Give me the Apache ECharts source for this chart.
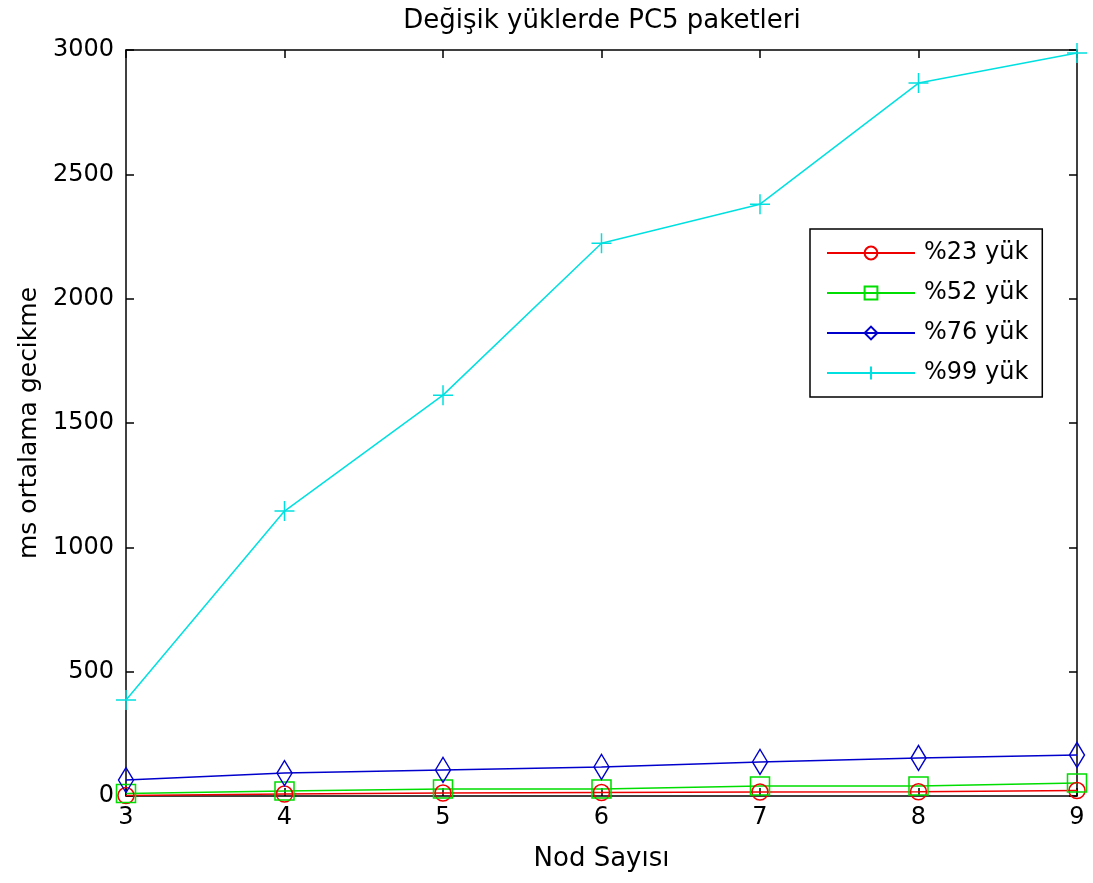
<!DOCTYPE html>
<html>
<head>
<meta charset="utf-8">
<script src="https://cdn.jsdelivr.net/npm/echarts@6/dist/echarts.min.js"></script>
<style>html,body{margin:0;padding:0;background:#fff}#c{width:1093px;height:883px}</style>
</head>
<body>
<div id="c"></div>
<script>
const nodes = [3, 4, 5, 6, 7, 8, 9];
const load23 = [2, 8, 12, 14, 16, 17, 22];
const load52 = [10, 20, 28, 28, 40, 40, 52];
const load76 = [64, 92, 105, 117, 137, 153, 165];
const load99 = [386, 1146, 1612, 2223, 2380, 2867, 2988];
const seriesNames = ['%23 yük', '%52 yük', '%76 yük', '%99 yük'];
const yTicks = [0, 500, 1000, 1500, 2000, 2500, 3000];

const FONT = 'DejaVu Sans';
const pair = arr => nodes.map((n, i) => [n, arr[i]]);
const plusPath = 'path://M5,0L5,10M0,5L10,5';

function mk(name, data, color, symbol, size) {
  return {
    name, type: 'line', data: pair(data), xAxisIndex: 0, yAxisIndex: 0,
    symbol, symbolSize: size, showSymbol: true,
    lineStyle: { color, width: 1.5 },
    itemStyle: { color: 'rgba(0,0,0,0)', borderColor: color, borderWidth: 1.5 },
    emphasis: { disabled: true }, animation: false
  };
}

const chart = echarts.init(document.getElementById('c'));
const axisLine = { show: true, onZero: false, lineStyle: { color: '#000', width: 1.5 } };
const tick = { show: true, inside: true, length: 8, lineStyle: { color: '#000', width: 1.5 } };
chart.setOption({
  backgroundColor: '#fff',
  animation: false,
  title: {
    text: 'Değişik yüklerde PC5 paketleri',
    left: 597, textAlign: 'center', top: 3,
    textStyle: { fontFamily: FONT, fontSize: 26, fontWeight: 'normal', color: '#000' }
  },
  grid: { left: 126, right: 16, top: 50, bottom: 87 },
  legend: {
    orient: 'vertical', left: 810, top: 229,
    data: seriesNames,
    backgroundColor: '#fff', borderColor: '#000', borderWidth: 1.5,
    padding: [9, 14, 9, 16],
    itemWidth: 88, itemHeight: 16, itemGap: 10,
    textStyle: { fontFamily: FONT, fontSize: 24, color: '#000', lineHeight: 30, padding: [0, 0, 0, 4] }
  },
  xAxis: [
    {
      type: 'value', min: 3, max: 9, interval: 1, position: 'bottom',
      name: 'Nod Sayısı', nameLocation: 'middle', nameGap: 50,
      nameTextStyle: { fontFamily: FONT, fontSize: 26, color: '#000' },
      axisLine, axisTick: tick, splitLine: { show: false },
      axisLabel: { fontFamily: FONT, fontSize: 24, color: '#000', margin: 10 }
    },
    {
      type: 'value', min: 3, max: 9, interval: 1, position: 'top',
      axisLine, axisTick: tick, splitLine: { show: false }, axisLabel: { show: false }
    }
  ],
  yAxis: [
    {
      type: 'value', min: 0, max: 3000, interval: 500, position: 'left',
      name: 'ms ortalama gecikme', nameLocation: 'middle', nameGap: 78, nameRotate: 90,
      nameTextStyle: { fontFamily: FONT, fontSize: 25, color: '#000' },
      axisLine, axisTick: tick, splitLine: { show: false },
      axisLabel: { fontFamily: FONT, fontSize: 24, color: '#000', margin: 12,
        formatter: v => yTicks.includes(v) ? String(v) : '' }
    },
    {
      type: 'value', min: 0, max: 3000, interval: 500, position: 'right',
      axisLine, axisTick: tick, splitLine: { show: false }, axisLabel: { show: false }
    }
  ],
  series: [
    mk(seriesNames[0], load23, '#ee0000', 'circle', 16),
    mk(seriesNames[1], load52, '#00dd00', 'rect', [19, 18]),
    mk(seriesNames[2], load76, '#0000cc', 'diamond', [15, 25]),
    mk(seriesNames[3], load99, '#00e0e0', plusPath, [20, 20])
  ]
});
</script>
</body>
</html>
